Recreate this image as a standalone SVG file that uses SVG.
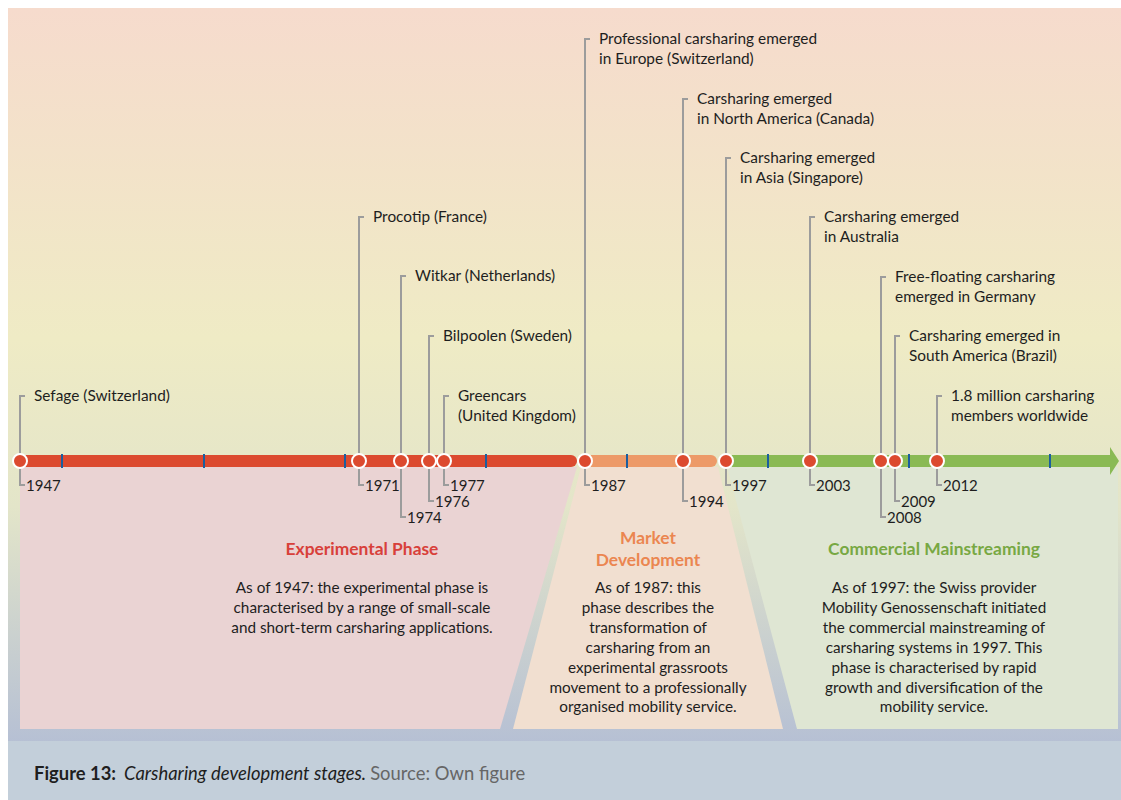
<svg xmlns="http://www.w3.org/2000/svg" width="1121" height="800" viewBox="0 0 1121 800">
<defs>
<linearGradient id="bg" x1="0" y1="0" x2="0" y2="1">
<stop offset="0" stop-color="#f6dbcd"/>
<stop offset="0.45" stop-color="#efebc5"/>
<stop offset="0.68" stop-color="#e3e5c9"/>
<stop offset="1" stop-color="#b6c0d4"/>
</linearGradient>
</defs>
<style>
text{font-family:Lato,"Liberation Sans",sans-serif;fill:#1e1e1e}
.lbl{font-size:15.4px}
.yr{font-size:15px}
.body{font-size:15.3px;text-anchor:middle}
.head{font-size:17.4px;font-weight:bold;text-anchor:middle}
.lead{fill:none;stroke:#9c9c9c;stroke-width:2}
.tick{stroke:#1b5e9f;stroke-width:2}
.dot{fill:#dc4a2f;stroke:#fff;stroke-width:2}
</style>
<rect x="0" y="0" width="1121" height="800" fill="#fff"/>
<rect x="8" y="8" width="1113" height="734" fill="url(#bg)"/>
<rect x="8" y="741" width="1113" height="59" fill="#c3cfda"/>

<g id="phase-experimental">
<polygon points="20,467 577,467 500,729 20,729" fill="#ead3d3"/>
<text class="head" x="362" y="555" style="fill:#d8403a">Experimental Phase</text>
<text class="body" x="362" y="593">As of 1947: the experimental phase is</text>
<text class="body" x="362" y="613">characterised by a range of small-scale</text>
<text class="body" x="362" y="633">and short-term carsharing applications.</text>
</g>
<g id="phase-market">
<polygon points="581,467 718,467 783,729 513,729" fill="#f1dfd0"/>
<text class="head" x="648" y="544" style="fill:#eb8650">Market</text>
<text class="head" x="648" y="566" style="fill:#eb8650">Development</text>
<text class="body" x="648" y="593">As of 1987: this</text>
<text class="body" x="648" y="613">phase describes the</text>
<text class="body" x="648" y="633">transformation of</text>
<text class="body" x="648" y="653">carsharing from an</text>
<text class="body" x="648" y="673">experimental grassroots</text>
<text class="body" x="648" y="693">movement to a professionally</text>
<text class="body" x="648" y="712">organised mobility service.</text>
</g>
<g id="phase-commercial">
<polygon points="727,467 1118,467 1118,729 797,729" fill="#dfe6d3"/>
<text class="head" x="934" y="555" style="fill:#78a843">Commercial Mainstreaming</text>
<text class="body" x="934" y="593">As of 1997: the Swiss provider</text>
<text class="body" x="934" y="613">Mobility Genossenschaft initiated</text>
<text class="body" x="934" y="633">the commercial mainstreaming of</text>
<text class="body" x="934" y="653">carsharing systems in 1997. This</text>
<text class="body" x="934" y="673">phase is characterised by rapid</text>
<text class="body" x="934" y="693">growth and diversification of the</text>
<text class="body" x="934" y="712">mobility service.</text>
</g>

<g id="timeline">
<path d="M20,455 H571 A6,6 0 0 1 571,467 H20 Z" fill="#dc4a2f"/>
<path d="M585,455 H711 A6,6 0 0 1 711,467 H585 Z" fill="#ed9a68"/>
<polygon points="726,455 1110,455 1110,447 1119,461 1110,475 1110,467 726,467" fill="#8aba54"/>
<line class="tick" x1="62" y1="454" x2="62" y2="468"/>
<line class="tick" x1="204" y1="454" x2="204" y2="468"/>
<line class="tick" x1="345" y1="454" x2="345" y2="468"/>
<line class="tick" x1="486" y1="454" x2="486" y2="468"/>
<line class="tick" x1="627" y1="454" x2="627" y2="468"/>
<line class="tick" x1="768" y1="454" x2="768" y2="468"/>
<line class="tick" x1="909" y1="454" x2="909" y2="468"/>
<line class="tick" x1="1050" y1="454" x2="1050" y2="468"/>
</g>

<g id="connectors">
<path class="lead" d="M25,396 H20 V485 H25"/>
<path class="lead" d="M364,217 H359 V485 H364"/>
<path class="lead" d="M406,276 H401 V517 H406"/>
<path class="lead" d="M434,336 H429 V501 H434"/>
<path class="lead" d="M449,396 H444 V485 H449"/>
<path class="lead" d="M590,39 H585 V485 H590"/>
<path class="lead" d="M688,99 H683 V501 H688"/>
<path class="lead" d="M731,158 H726 V485 H731"/>
<path class="lead" d="M815,217 H810 V485 H815"/>
<path class="lead" d="M886,277 H881 V517 H886"/>
<path class="lead" d="M900,336 H895 V501 H900"/>
<path class="lead" d="M942,396 H937 V485 H942"/>
</g>

<g id="e1947"><circle class="dot" cx="20" cy="461" r="7"/><text class="lbl" x="34" y="401">Sefage (Switzerland)</text><text class="yr" x="26" y="491">1947</text></g>
<g id="e1971"><circle class="dot" cx="359" cy="461" r="7"/><text class="lbl" x="373" y="222">Procotip (France)</text><text class="yr" x="365" y="491">1971</text></g>
<g id="e1974"><circle class="dot" cx="401" cy="461" r="7"/><text class="lbl" x="415" y="281">Witkar (Netherlands)</text><text class="yr" x="407" y="523">1974</text></g>
<g id="e1976"><circle class="dot" cx="429" cy="461" r="7"/><text class="lbl" x="443" y="341">Bilpoolen (Sweden)</text><text class="yr" x="435" y="507">1976</text></g>
<g id="e1977"><circle class="dot" cx="444" cy="461" r="7"/><text class="lbl" x="458" y="401">Greencars</text><text class="lbl" x="458" y="421">(United Kingdom)</text><text class="yr" x="450" y="491">1977</text></g>
<g id="e1987"><circle class="dot" cx="585" cy="461" r="7"/><text class="lbl" x="599" y="44">Professional carsharing emerged</text><text class="lbl" x="599" y="64">in Europe (Switzerland)</text><text class="yr" x="591" y="491">1987</text></g>
<g id="e1994"><circle class="dot" cx="683" cy="461" r="7"/><text class="lbl" x="697" y="104">Carsharing emerged</text><text class="lbl" x="697" y="124">in North America (Canada)</text><text class="yr" x="689" y="507">1994</text></g>
<g id="e1997"><circle class="dot" cx="726" cy="461" r="7"/><text class="lbl" x="740" y="163">Carsharing emerged</text><text class="lbl" x="740" y="183">in Asia (Singapore)</text><text class="yr" x="732" y="491">1997</text></g>
<g id="e2003"><circle class="dot" cx="810" cy="461" r="7"/><text class="lbl" x="824" y="222">Carsharing emerged</text><text class="lbl" x="824" y="242">in Australia</text><text class="yr" x="816" y="491">2003</text></g>
<g id="e2008"><circle class="dot" cx="881" cy="461" r="7"/><text class="lbl" x="895" y="282">Free-floating carsharing</text><text class="lbl" x="895" y="302">emerged in Germany</text><text class="yr" x="887" y="523">2008</text></g>
<g id="e2009"><circle class="dot" cx="895" cy="461" r="7"/><text class="lbl" x="909" y="341">Carsharing emerged in</text><text class="lbl" x="909" y="361">South America (Brazil)</text><text class="yr" x="901" y="507">2009</text></g>
<g id="e2012"><circle class="dot" cx="937" cy="461" r="7"/><text class="lbl" x="951" y="401">1.8 million carsharing</text><text class="lbl" x="951" y="421">members worldwide</text><text class="yr" x="943" y="491">2012</text></g>

<g id="caption">
<text x="34" y="780" style="font-size:18.4px"><tspan font-weight="bold">Figure 13:</tspan><tspan dx="8" font-style="italic">Carsharing development stages.</tspan><tspan dx="4" style="fill:#666">Source: Own figure</tspan></text>
</g>
</svg>
